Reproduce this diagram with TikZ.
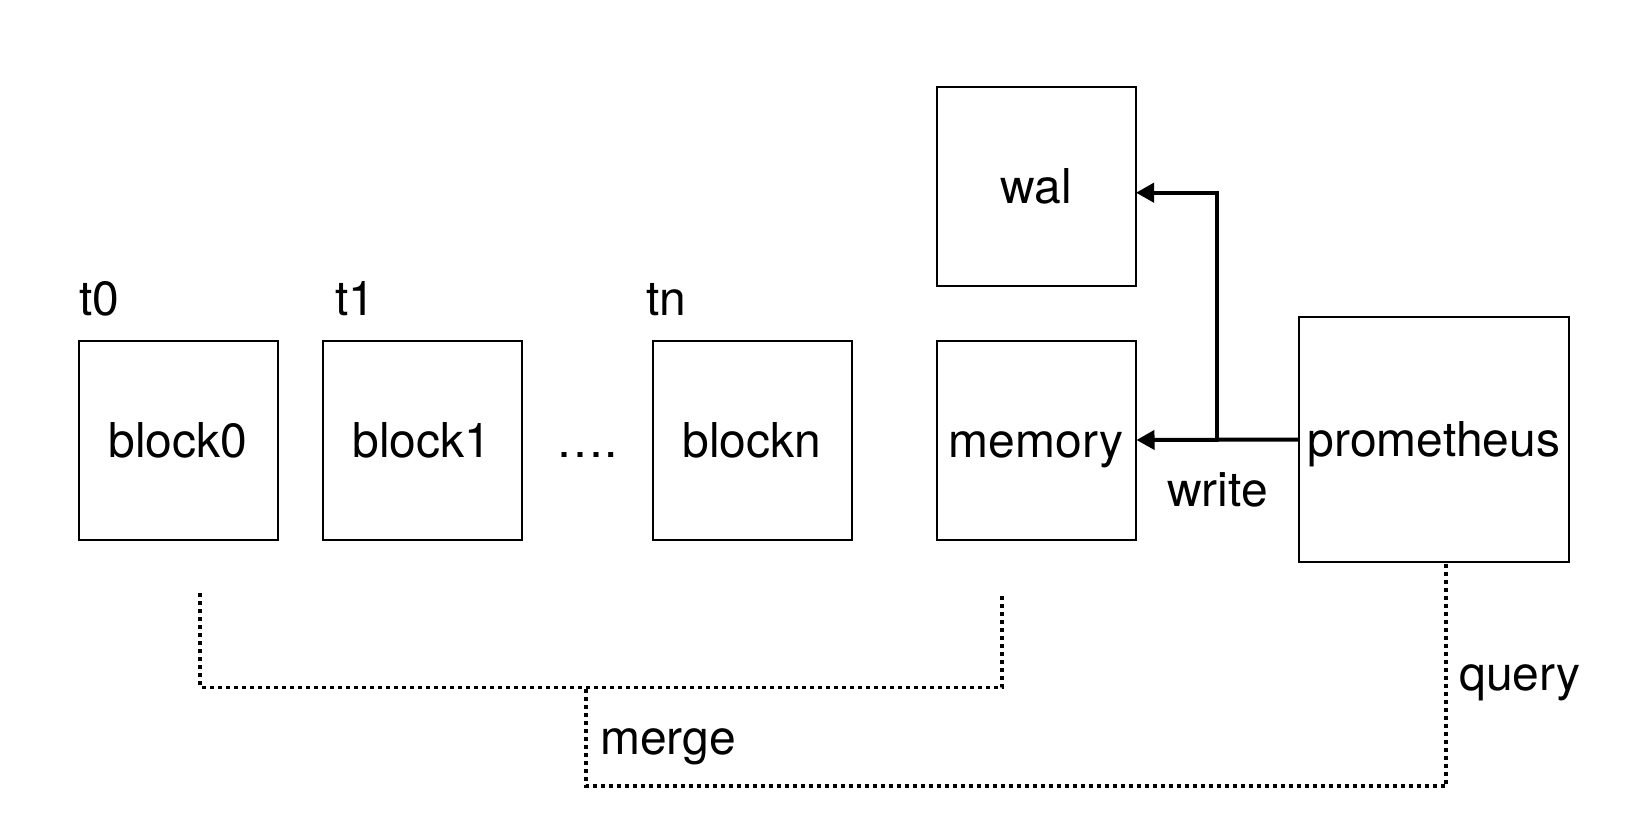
\documentclass[tikz,border=0pt]{standalone}
\usepackage{fontspec}
\setmainfont{TeX Gyre Heros}
\usetikzlibrary{arrows.meta}
\begin{document}
\begin{tikzpicture}[x=1pt,y=-1pt,
  box/.style={draw, line width=2pt, minimum width=199pt, minimum height=199pt, inner sep=0pt,
    font=\fontsize{48}{58}\selectfont, text height=34pt, text depth=0pt},
  lbl/.style={inner sep=0pt, anchor=base, font=\fontsize{48}{58}\selectfont},
  lblw/.style={lbl, anchor=base west},
  arr/.style={line width=4pt, -{Triangle[length=18pt,width=19pt]}},
  dotline/.style={line width=3.8pt, dash pattern=on 4pt off 4pt}]
\useasboundingbox (0,0) rectangle (1638,840);
% boxes
\node[box] (b0) at (178,440) {block0};
\node[box] (b1) at (422,440) {block1};
\node[box] (bn) at (752,440) {blockn};
\node[box] (mem) at (1036,440) {memory};
\node[box] (wal) at (1036,186.7) {wal};
\node[box, minimum width=270pt, minimum height=245.6pt] (prom) at (1434,439.5) {prometheus};
% labels
\node[lblw] (t0) at (79,315) {t0};
\node[lblw] (t1) at (335,315) {t1};
\node[lblw] (tn) at (646,315) {tn};
\node[lbl] (dots) at (587,457.3) {….};
\node[lbl] (write) at (1217.5,506.7) {write};
\node[lbl] (merge) at (668,754) {merge};
\node[lbl] (query) at (1520,690) {query};
% write arrows
\coordinate (split) at (1217,439.5);
\coordinate (walin) at (1136,192.7);
\draw[arr] (prom.west) -- (mem.east);
\draw[arr] (split) |- (walin);
% merge bracket
\coordinate (m0) at (200,593);
\coordinate (m1) at (1002,593);
\coordinate (mj) at (586,687.5);
\coordinate (q0) at (1446,563.5);
\draw[dotline] (m0) -- (200,687.5) -- (1002,687.5) -- (m1);
\draw[dotline] (q0) -- (1446,786) -| (mj);
\end{tikzpicture}
\end{document}
